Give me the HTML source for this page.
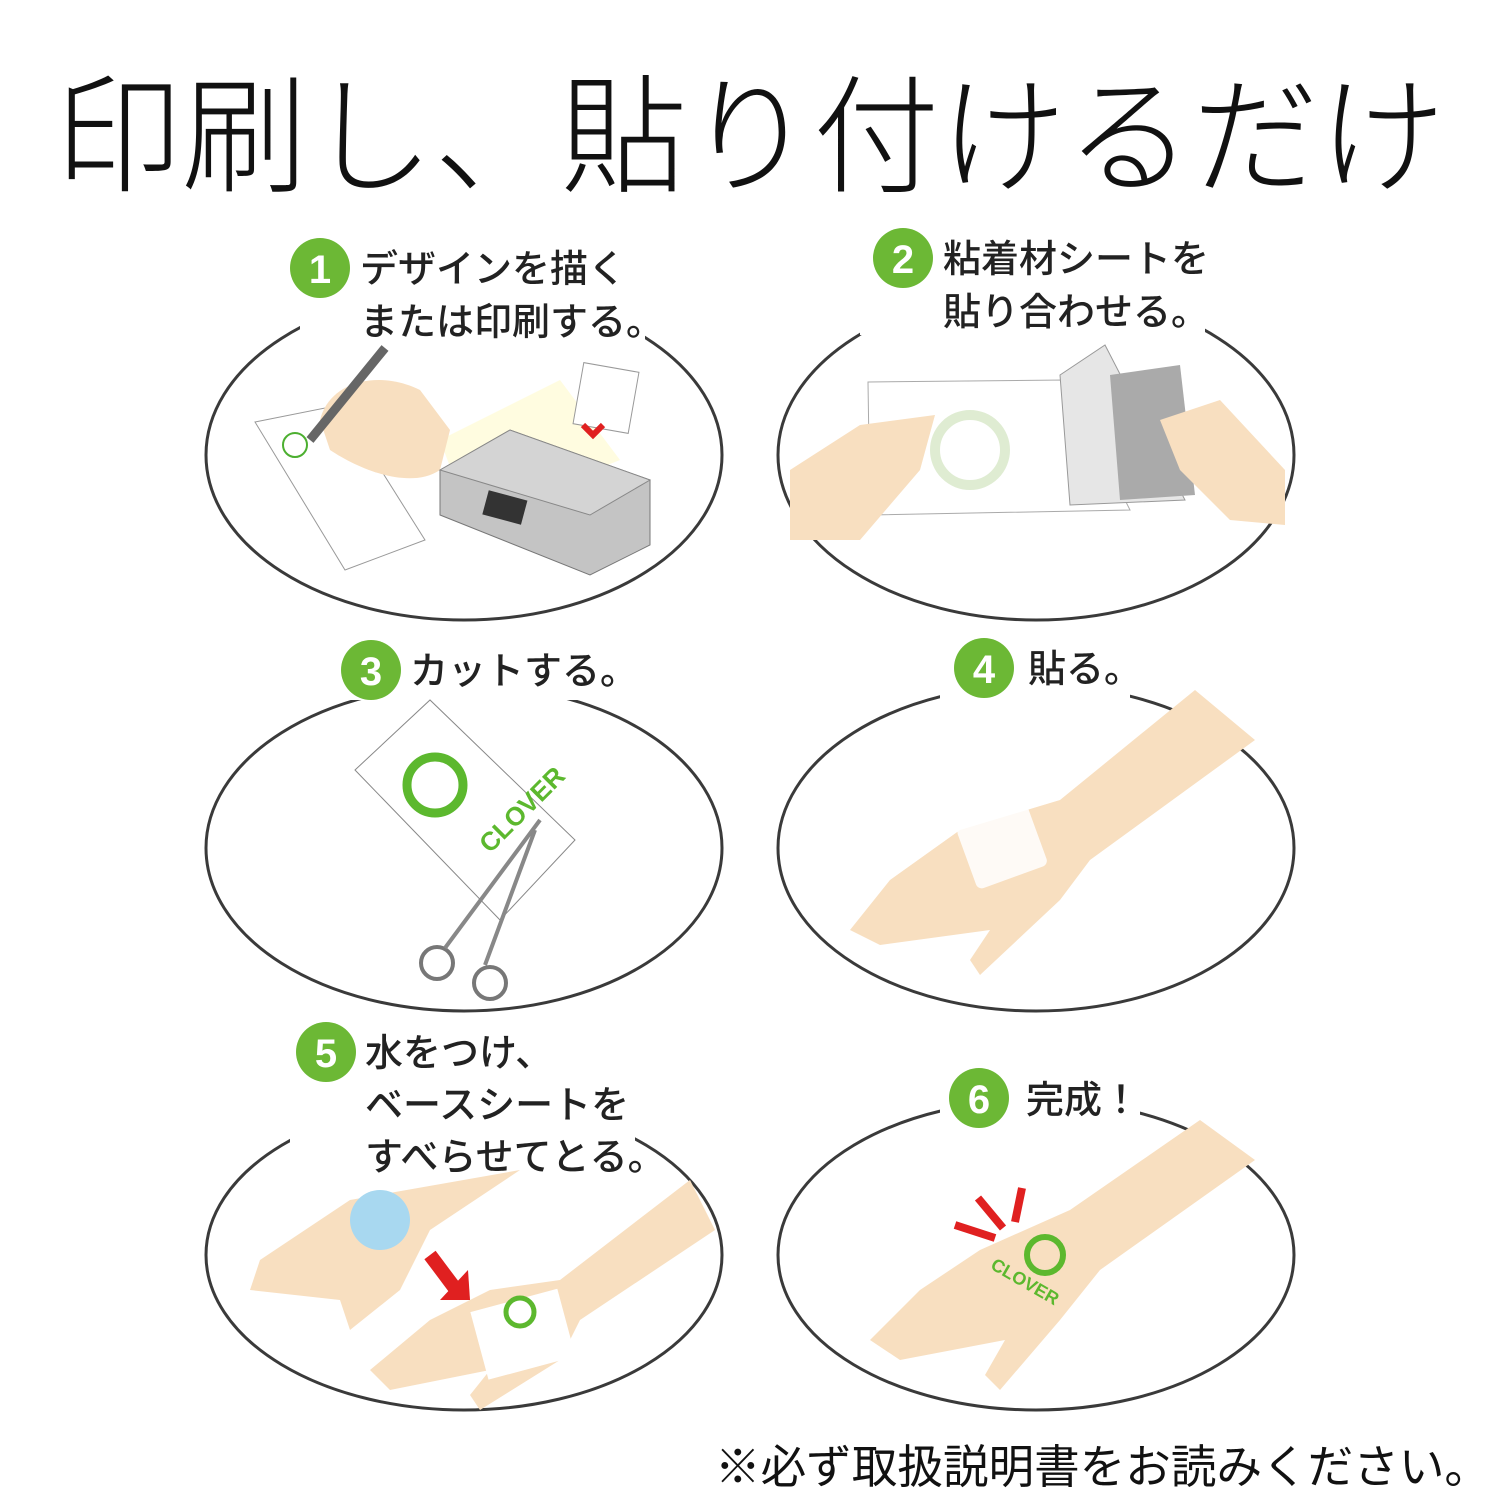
<!DOCTYPE html>
<html><head><meta charset="utf-8"><style>
html,body{margin:0;padding:0;background:#fff;}
svg{display:block}
</style></head><body>
<svg width="1500" height="1500" viewBox="0 0 1500 1500" xmlns="http://www.w3.org/2000/svg" font-family="'Liberation Sans','Noto Sans CJK JP',sans-serif">
<rect width="1500" height="1500" fill="#fff"/>
<text x="750" y="182" font-size="128" text-anchor="middle" fill="#111" font-weight="300" textLength="1390" lengthAdjust="spacingAndGlyphs">印刷し、貼り付けるだけ</text>

<g fill="none" stroke="#3a3a3a" stroke-width="3">
<ellipse cx="464" cy="455" rx="258" ry="165"/>
<ellipse cx="1036" cy="455" rx="258" ry="165"/>
<ellipse cx="464" cy="848" rx="258" ry="163"/>
<ellipse cx="1036" cy="848" rx="258" ry="163"/>
<ellipse cx="464" cy="1255" rx="258" ry="155"/>
<ellipse cx="1036" cy="1255" rx="258" ry="155"/>
</g>
<g fill="#fff">
<rect x="300" y="230" width="345" height="115"/>
<rect x="860" y="225" width="345" height="110"/>
<rect x="330" y="640" width="270" height="60"/>
<rect x="940" y="640" width="190" height="60"/>
<rect x="290" y="1020" width="345" height="160"/>
<rect x="940" y="1065" width="200" height="65"/>
</g>

<polygon points="255,422 340,405 425,540 345,570" fill="#fff" stroke="#999" stroke-width="1"/>
<polygon points="440,440 560,380 620,460 470,520" fill="#fffbd8" opacity="0.8"/>
<path d="M320,420 C330,380 380,370 420,390 L450,430 L440,470 C410,490 360,470 330,450 Z" fill="#f8dfc0"/>
<line x1="385" y1="348" x2="310" y2="440" stroke="#666" stroke-width="9"/>
<circle cx="295" cy="445" r="12" fill="none" stroke="#4caf30" stroke-width="2"/>
<rect x="578" y="367" width="56" height="62" fill="#fff" stroke="#999" transform="rotate(10 606 398)"/>
<path d="M583,425 l10,10 l10,-10" stroke="#e02020" stroke-width="6" fill="none"/>
<polygon points="440,470 510,430 650,480 650,545 590,575 440,515" fill="#c4c4c4" stroke="#777"/>
<polygon points="440,470 510,430 650,480 590,515" fill="#d4d4d4" stroke="#888"/>
<rect x="485" y="495" width="40" height="25" fill="#333" transform="rotate(15 505 507)"/>

<polygon points="868,382 1065,380 1130,510 870,515" fill="#fff" stroke="#aaa"/>
<polygon points="1060,375 1105,345 1185,500 1070,505" fill="#e6e6e6" stroke="#999"/>
<polygon points="1110,375 1180,365 1195,495 1120,500" fill="#aaa"/>
<circle cx="970" cy="450" r="35" fill="none" stroke="#dfecd2" stroke-width="10"/>
<path d="M790,470 L860,425 L935,415 L920,470 L860,540 L790,540 Z" fill="#f8dfc0"/>
<path d="M1160,420 L1220,400 L1285,470 L1285,525 L1230,520 L1180,470 Z" fill="#f8dfc0"/>

<polygon points="355,770 430,700 575,840 500,920" fill="#fff" stroke="#888"/>
<circle cx="435" cy="785" r="28" fill="none" stroke="#5cb82e" stroke-width="9"/>
<text x="480" y="850" font-size="26" fill="#5cb82e" font-weight="bold" transform="rotate(-45 490 840)">CLOVER</text>
<circle cx="437" cy="963" r="16" fill="none" stroke="#777" stroke-width="4"/>
<circle cx="490" cy="983" r="16" fill="none" stroke="#777" stroke-width="4"/>
<path d="M445,948 L540,820 M485,965 L535,830" stroke="#888" stroke-width="4"/>

<path d="M1195,690 L1255,740 L1090,860 L1060,900 L980,975 L970,960 L990,930 L880,945 L850,930 L890,880 L960,830 L1060,800 Z" fill="#f8dfc0"/>
<rect x="965" y="815" width="75" height="65" rx="6" fill="#fff" opacity="0.85" transform="rotate(-20 1000 848)"/>

<path d="M520,1170 L350,1200 L260,1260 L250,1290 L340,1300 L350,1330 L400,1290 L430,1230 Z" fill="#f8dfc0"/>
<path d="M690,1180 L715,1230 L580,1320 L560,1360 L480,1410 L470,1395 L490,1370 L390,1390 L370,1370 L430,1320 L490,1290 L560,1280 Z" fill="#f8dfc0"/>
<circle cx="380" cy="1220" r="30" fill="#a8d8f0"/>
<rect x="478" y="1300" width="90" height="70" fill="#fff" transform="rotate(-15 520 1335)"/>
<circle cx="520" cy="1312" r="14" fill="none" stroke="#5cb82e" stroke-width="5"/>
<path d="M430,1255 L460,1295" stroke="#e02020" stroke-width="14"/>
<polygon points="440,1300 470,1300 468,1270" fill="#e02020"/>

<path d="M1200,1120 L1255,1160 L1100,1270 L1060,1320 L1000,1390 L985,1375 L1005,1340 L900,1360 L870,1340 L920,1290 L980,1250 L1070,1210 Z" fill="#f8dfc0"/>
<circle cx="1045" cy="1255" r="18" fill="none" stroke="#5cb82e" stroke-width="6"/>
<text x="985" y="1275" font-size="18" fill="#5cb82e" font-weight="bold" transform="rotate(30 1000 1280)">CLOVER</text>
<g stroke="#e02020" stroke-width="8"><line x1="955" y1="1225" x2="995" y2="1238"/><line x1="978" y1="1198" x2="1003" y2="1228"/><line x1="1022" y1="1188" x2="1015" y2="1222"/></g>

<g font-weight="500" font-size="40" fill="#222">
<circle cx="320" cy="268" r="30" fill="#6cb835"/><text x="320" y="283" fill="#fff" text-anchor="middle" font-weight="bold">1</text>
<text x="360" y="282" font-size="38">デザインを描く</text>
<text x="360" y="335" font-size="38">または印刷する。</text>
<circle cx="903" cy="258" r="30" fill="#6cb835"/><text x="903" y="273" fill="#fff" text-anchor="middle" font-weight="bold">2</text>
<text x="943" y="272" font-size="38">粘着材シートを</text>
<text x="943" y="325" font-size="38">貼り合わせる。</text>
<circle cx="371" cy="670" r="30" fill="#6cb835"/><text x="371" y="685" fill="#fff" text-anchor="middle" font-weight="bold">3</text>
<text x="410" y="684" font-size="38">カットする。</text>
<circle cx="984" cy="668" r="30" fill="#6cb835"/><text x="984" y="683" fill="#fff" text-anchor="middle" font-weight="bold">4</text>
<text x="1028" y="682" font-size="38">貼る。</text>
<circle cx="326" cy="1052" r="30" fill="#6cb835"/><text x="326" y="1067" fill="#fff" text-anchor="middle" font-weight="bold">5</text>
<text x="365" y="1066" font-size="38">水をつけ、</text>
<text x="365" y="1118" font-size="38">ベースシートを</text>
<text x="365" y="1170" font-size="38">すべらせてとる。</text>
<circle cx="979" cy="1098" r="30" fill="#6cb835"/><text x="979" y="1113" fill="#fff" text-anchor="middle" font-weight="bold">6</text>
<text x="1026" y="1113" font-size="38">完成！</text>
</g>
<text x="1490" y="1483" font-size="46" text-anchor="end" fill="#111" textLength="775" lengthAdjust="spacingAndGlyphs">※必ず取扱説明書をお読みください。</text>
</svg>
</body></html>
